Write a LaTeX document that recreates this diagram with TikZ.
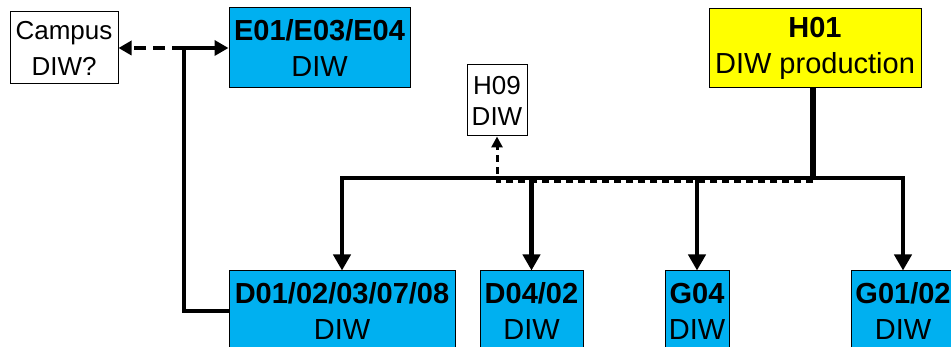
\documentclass[tikz,border=0pt]{standalone}
\usepackage{fontspec}
\setmainfont{Liberation Sans}
\usetikzlibrary{arrows.meta}
\definecolor{boxblue}{RGB}{0,176,240}
\definecolor{boxyellow}{RGB}{255,255,0}
\begin{document}
\begin{tikzpicture}[x=1pt,y=-1pt,
  box/.style={draw=black, line width=1pt, inner sep=0pt, align=center, font=\fontsize{29}{36}\selectfont},
  smallbox/.style={box, font=\fontsize{26}{36}\selectfont},
  bluebox/.style={box, fill=boxblue},
  conn/.style={line width=4.5pt},
  tipbig/.style={-{Triangle[width=17pt,length=16pt]}},
  tipmid/.style={-{Triangle[width=15pt,length=14pt]}},
  dashconn/.style={line width=3.5pt, dash pattern=on 12pt off 7pt},
  dashthin/.style={line width=3pt, dash pattern=on 7pt off 5pt},
]
\useasboundingbox (0,0) rectangle (951,347);
\clip (0,0) rectangle (951,347);
\fill[white] (0,0) rectangle (951,347);

% nodes
\node[smallbox, minimum width=108pt, minimum height=72pt] (campus) at (64,48) {Campus\\DIW?};
\node[bluebox, minimum width=181pt, minimum height=80pt] (e01) at (319.5,48) {\textbf{E01/E03/E04}\\DIW};
\node[box, fill=boxyellow, minimum width=212pt, minimum height=79pt] (h01) at (815,48.5) {\textbf{H01}\\DIW production};
\node[smallbox, font=\fontsize{26}{31}\selectfont, minimum width=60pt, minimum height=71pt] (h09) at (497,100.5) {H09\\DIW};
\node[bluebox, minimum width=226pt, minimum height=80pt] (d01) at (342,311) {\textbf{D01/02/03/07/08}\\DIW};
\node[bluebox, minimum width=103pt, minimum height=80pt] (d04) at (531.5,311) {\textbf{D04/02}\\DIW};
\node[bluebox, minimum width=64pt, minimum height=80pt] (g04) at (697,311) {\textbf{G04}\\DIW};
\node[bluebox, minimum width=104pt, minimum height=80pt] (g01) at (903,311) {\textbf{G01/02}\\DIW};

% coordinates
\coordinate (j) at (184,48);
\coordinate (b) at (813,178);
\coordinate (bd) at (813,182);

% left connectors
\draw[dashconn, -{Triangle[width=14pt,length=13pt]}] (j) -- (campus.east);
\draw[conn, tipmid] (j) -- (e01.west);
\draw[conn, line join=miter] ([yshift=-2pt]j) |- (d01.west);

% bus
\draw[line width=5.5pt] (h01.south -| b) -- ([yshift=2pt]b);
\draw[conn, tipbig] (b) -| (d01.north);
\draw[conn, tipbig] (b) -| (g01.north);
\draw[conn, tipbig] (d04.north |- b) -- (d04.north);
\draw[conn, tipbig] (g04.north |- b) -- (g04.north);

% dashed link to H09
\draw[dashthin, -{Triangle[width=11pt,length=11pt]}] (bd) -| (h09.south);
\end{tikzpicture}
\end{document}
